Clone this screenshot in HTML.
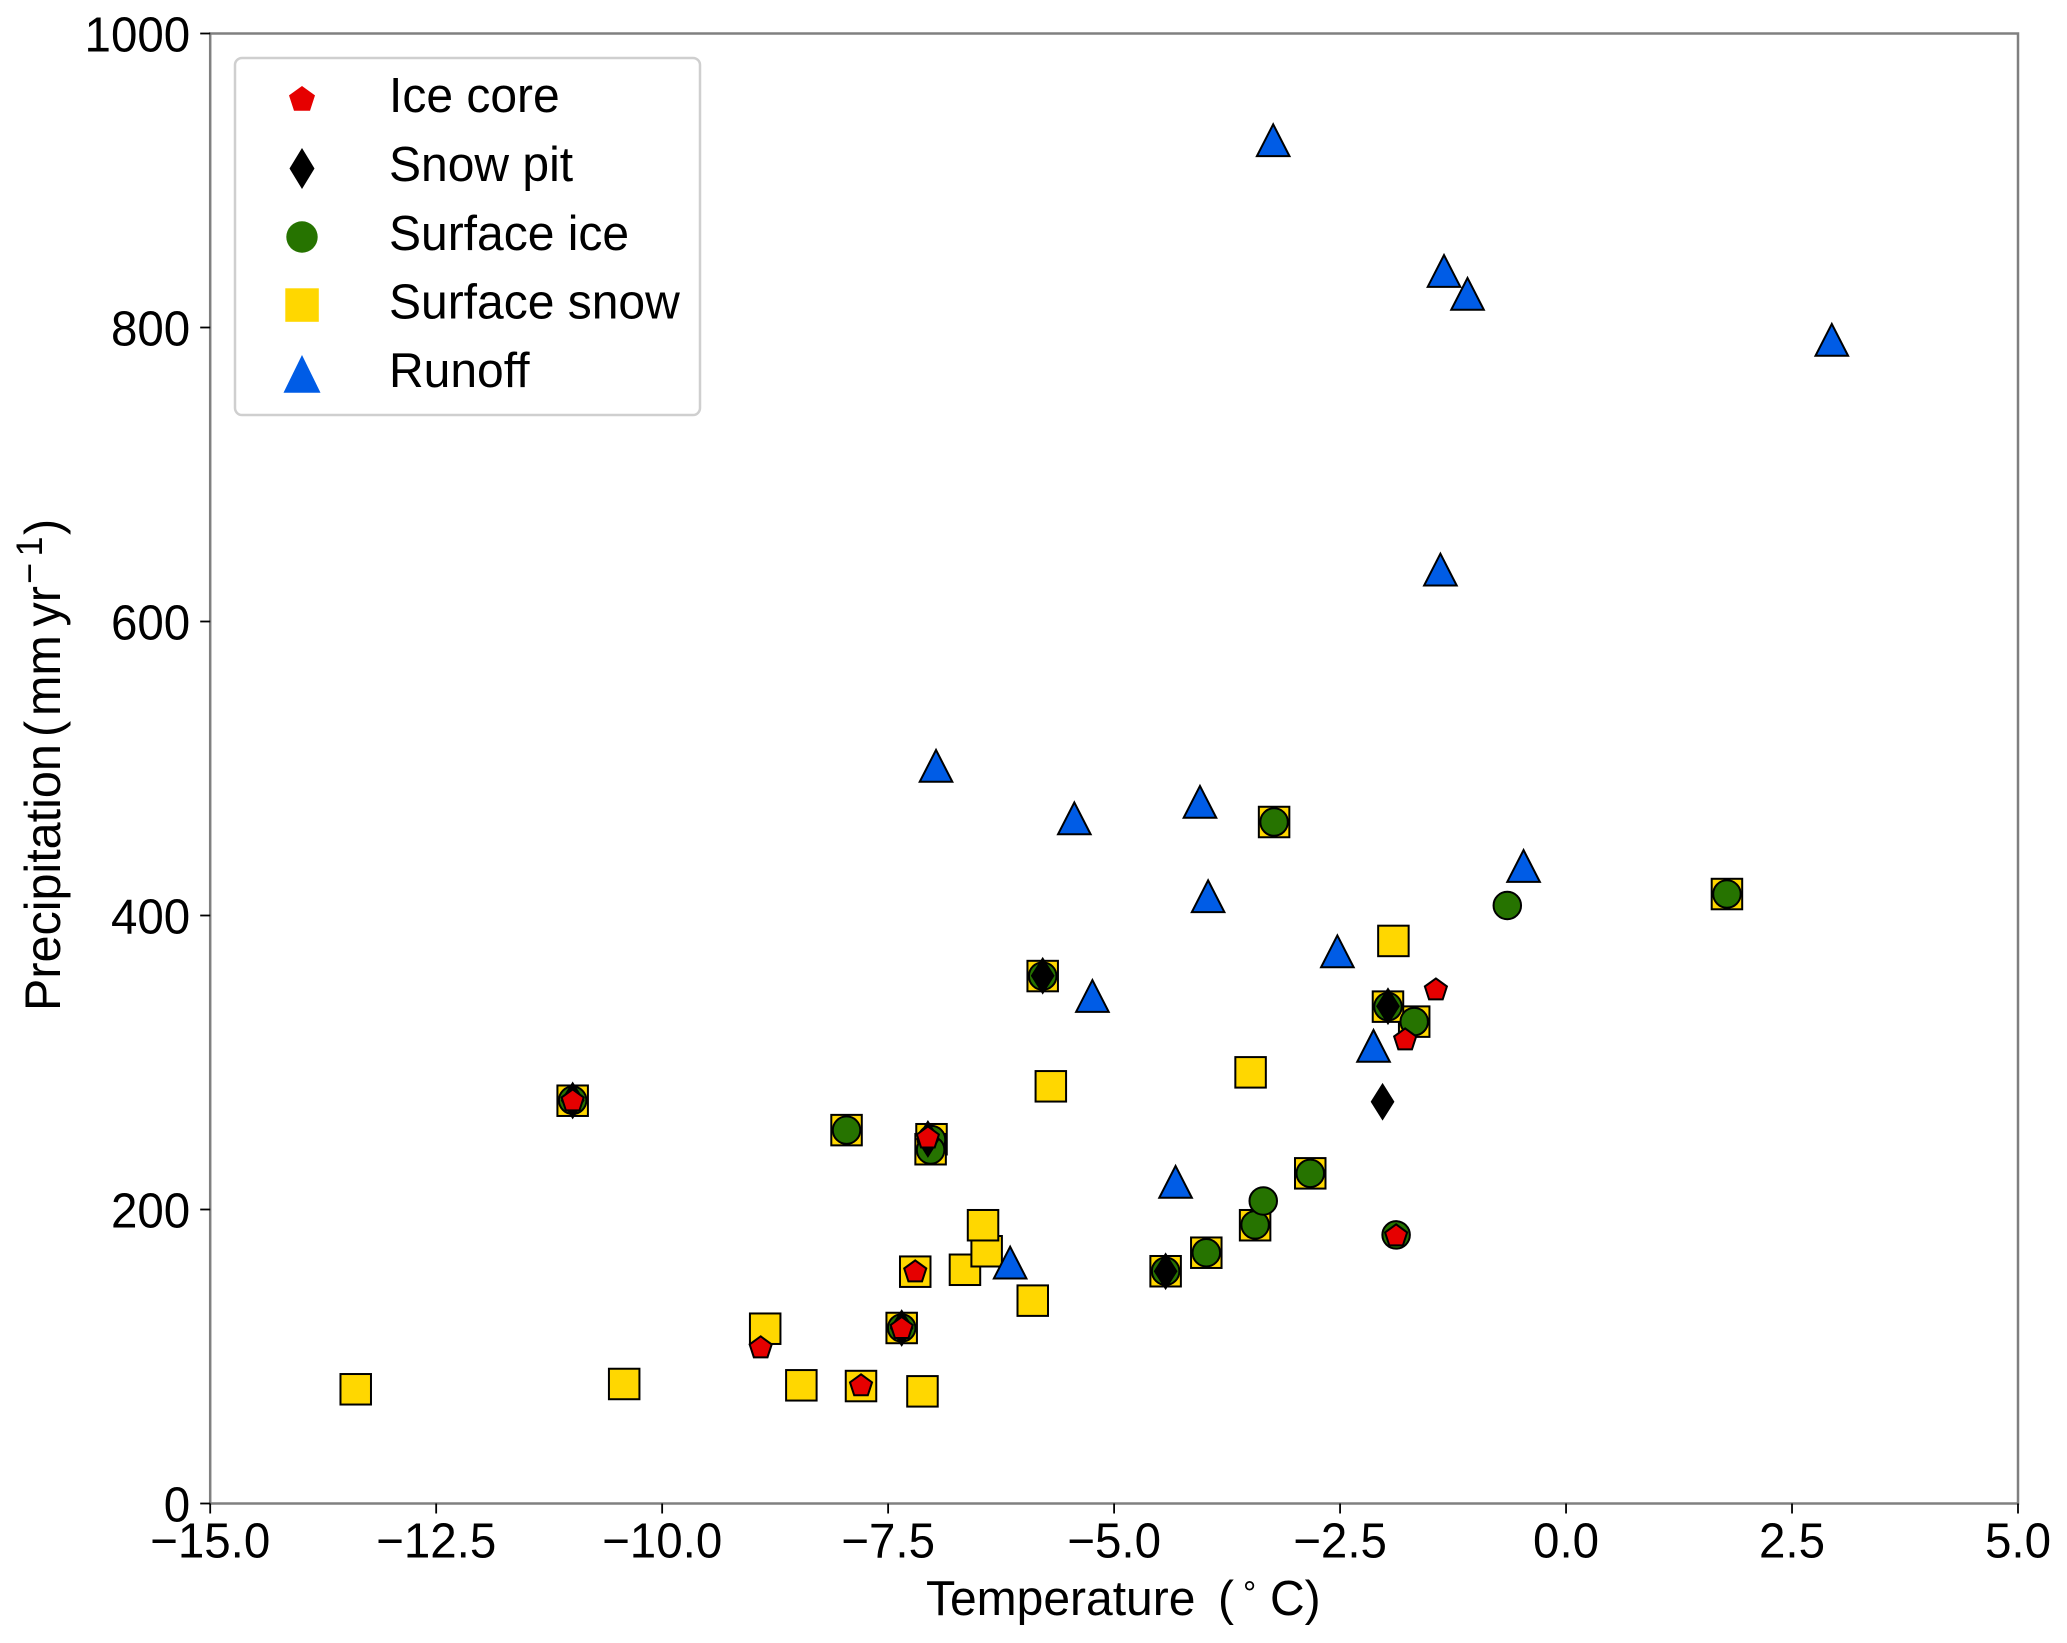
<!DOCTYPE html>
<html lang="en">
<head>
<meta charset="utf-8">
<title>Precipitation vs Temperature</title>
<style>
html,body{margin:0;padding:0;background:#fff;}
svg{display:block;}
text{font-family:"Liberation Sans",Arial,sans-serif;fill:#000;}
</style>
</head>
<body>
<svg id="chart" xmlns="http://www.w3.org/2000/svg" width="2067" height="1643" viewBox="0 0 2067 1643">
  <rect x="0" y="0" width="2067" height="1643" fill="#ffffff"/>
  <g id="marks"></g>
  <g id="axes"></g>
  <g>
    <rect x="235" y="58" width="465" height="357" rx="7" ry="7" fill="#ffffff" stroke="#cfcfcf" stroke-width="2.5"/>
    <polygon points="302,86 315,95.4 310,110.7 294,110.7 289,95.4" fill="#e60000"/>
    <text transform="translate(389,112) scale(1,1.03)" font-size="48">Ice core</text>
    <polygon points="302,148 314.5,168.5 302,189 289.5,168.5" fill="#000000"/>
    <text transform="translate(389,181) scale(1,1.03)" font-size="48">Snow pit</text>
    <circle cx="302" cy="237" r="15.7" fill="#267300"/>
    <text transform="translate(389,250) scale(1,1.03)" font-size="48">Surface ice</text>
    <rect x="285.3" y="288.3" width="33.5" height="33.5" fill="#ffd700"/>
    <text transform="translate(389,318.5) scale(1,1.03)" font-size="48">Surface snow</text>
    <polygon points="302,355 320.5,392.7 283.5,392.7" fill="#005ce6"/>
    <text transform="translate(389,387) scale(1,1.03)" font-size="48">Runoff</text>
  </g>
  <text transform="translate(0,1615) scale(1,1.03)" font-size="48"><tspan x="926" y="0">Temperature</tspan><tspan x="1218" y="0">(</tspan><tspan x="1243" y="-9.5" font-size="33">°</tspan><tspan x="1270" y="0">C)</tspan></text>
  <text transform="translate(60,1011) rotate(-90) scale(1,1.03)" font-size="48.5"><tspan x="0" y="0">Precipitation</tspan><tspan x="274" y="0">(</tspan><tspan x="295" y="0">mm</tspan><tspan x="384.5" y="0">yr</tspan><tspan x="427" y="-17.5" font-size="36">−</tspan><tspan x="454.5" y="-17.5" font-size="36">1</tspan><tspan x="476" y="0">)</tspan></text>
</svg>
<script>
// Axis limits
const xDomain = [-15, 5];
const yDomain = [0, 1000];

// Tick values and labels
const xTickValues = [-15, -12.5, -10, -7.5, -5, -2.5, 0, 2.5, 5];
const xTickLabels = ['−15.0', '−12.5', '−10.0', '−7.5', '−5.0', '−2.5', '0.0', '2.5', '5.0'];
const yTickValues = [0, 200, 400, 600, 800, 1000];
const yTickLabels = ['0', '200', '400', '600', '800', '1000'];

// Surface snow
const surfaceSnowTemp = [-13.39, -10.42, -8.86, -8.46, -7.80, -7.12, -7.35, -7.20, -6.65, -6.41, -6.45, -5.90, -7.96, -7.02, -7.03, -10.99, -5.70, -5.79, -1.91, -1.68, -1.97, -3.49, -2.83, -3.44, -3.98, -4.43, -3.23, 1.78];
const surfaceSnowPrecip = [77.7, 81.3, 118.9, 80.4, 79.9, 76.3, 119.4, 157.7, 159, 171.6, 189.3, 138, 254, 247.8, 241, 274, 283.8, 358.8, 382.7, 327.8, 338, 293.3, 224.6, 189.3, 170.6, 158, 463.6, 414.6];

// Runoff
const runoffTemp = [-3.24, -1.35, -1.09, 2.94, -1.39, -6.97, -5.44, -4.05, -3.96, -0.47, -2.53, -5.24, -2.13, -4.32, -6.15];
const runoffPrecip = [927.8, 838.9, 823.3, 792, 635.7, 502.2, 466.5, 477.7, 413.5, 434.1, 376, 345.7, 311.7, 219.2, 164.3];

// Surface ice
const surfaceIceTemp = [-10.99, -7.96, -7.02, -7.03, -7.35, -5.79, -4.43, -3.98, -3.44, -3.35, -2.83, -1.68, -1.97, -1.88, -3.23, -0.65, 1.78];
const surfaceIcePrecip = [274.3, 254, 247.5, 240.5, 119.4, 358.8, 158, 170.6, 189.5, 205.8, 224.6, 327.8, 338, 182.7, 463.6, 406.8, 414.6];

// Snow pit
const snowPitTemp = [-10.99, -7.06, -7.35, -5.79, -4.43, -1.97, -2.03];
const snowPitPrecip = [274.2, 248, 119.4, 359, 158, 338.3, 273.3];

// Ice core
const iceCoreTemp = [-10.99, -8.91, -7.80, -7.35, -7.20, -7.06, -1.88, -1.78, -1.44];
const iceCorePrecip = [273.8, 105.8, 80, 119, 157.5, 248.6, 182, 315.3, 349.3];

const SVG_NS = 'http://www.w3.org/2000/svg';
const plotLeft = 210.2;
const plotRight = 2018;
const plotTop = 33.5;
const plotBottom = 1503.5;

function xScale(v) {
  return plotLeft + (v - xDomain[0]) / (xDomain[1] - xDomain[0]) * (plotRight - plotLeft);
}
function yScale(v) {
  return plotBottom - (v - yDomain[0]) / (yDomain[1] - yDomain[0]) * (plotBottom - plotTop);
}
function make(tag, parent) {
  const el = document.createElementNS(SVG_NS, tag);
  parent.appendChild(el);
  return el;
}
function polyPoints(cx, cy, offsets) {
  return offsets.map(function (o) { return (cx + o[0]).toFixed(2) + ',' + (cy + o[1]).toFixed(2); }).join(' ');
}

const marks = document.getElementById('marks');
const axes = document.getElementById('axes');

function styleMark(el, fill) {
  el.setAttribute('fill', fill);
  el.setAttribute('stroke', '#000000');
  el.setAttribute('stroke-width', '2');
}

function drawSquares(xs, ys) {
  xs.forEach(function (t, i) {
    const el = make('rect', marks);
    
    
    el.setAttribute('x', xScale(t) - 15.25);
    el.setAttribute('y', yScale(ys[i]) - 15.25);
    el.setAttribute('width', 30.5);
    el.setAttribute('height', 30.5);
    styleMark(el, '#ffd700');
  });
}
function drawTriangles(xs, ys) {
  xs.forEach(function (t, i) {
    const el = make('polygon', marks);
    
    
    el.setAttribute('points', polyPoints(xScale(t), yScale(ys[i]), [[0, -15.3], [16.3, 16.5], [-16.3, 16.5]]));
    styleMark(el, '#005ce6');
  });
}
function drawCircles(xs, ys) {
  xs.forEach(function (t, i) {
    const el = make('circle', marks);
    
    
    el.setAttribute('cx', xScale(t));
    el.setAttribute('cy', yScale(ys[i]));
    el.setAttribute('r', 13.75);
    styleMark(el, '#267300');
  });
}
function drawDiamonds(xs, ys) {
  xs.forEach(function (t, i) {
    const el = make('polygon', marks);
    
    
    el.setAttribute('points', polyPoints(xScale(t), yScale(ys[i]), [[0, -17.5], [11, 0], [0, 17.5], [-11, 0]]));
    styleMark(el, '#000000');
    el.setAttribute('stroke-width', '1.5');
  });
}
function drawPentagons(xs, ys) {
  const r = 11.6;
  const offsets = [0, 1, 2, 3, 4].map(function (k) {
    const a = (-90 + 72 * k) * Math.PI / 180;
    return [r * Math.cos(a), r * Math.sin(a)];
  });
  xs.forEach(function (t, i) {
    const el = make('polygon', marks);
    
    
    el.setAttribute('points', polyPoints(xScale(t), yScale(ys[i]), offsets));
    styleMark(el, '#e60000');
  });
}

drawSquares(surfaceSnowTemp, surfaceSnowPrecip);
drawTriangles(runoffTemp, runoffPrecip);
drawCircles(surfaceIceTemp, surfaceIcePrecip);
drawDiamonds(snowPitTemp, snowPitPrecip);
drawPentagons(iceCoreTemp, iceCorePrecip);

// Spines
const frame = make('rect', axes);


frame.setAttribute('x', plotLeft);
frame.setAttribute('y', plotTop);
frame.setAttribute('width', plotRight - plotLeft);
frame.setAttribute('height', plotBottom - plotTop);
frame.setAttribute('fill', 'none');
frame.setAttribute('stroke', '#808080');
frame.setAttribute('stroke-width', '2.5');

// X axis ticks
xTickValues.forEach(function (v, i) {
  const tick = make('line', axes);
  
  
  tick.setAttribute('x1', xScale(v));
  tick.setAttribute('x2', xScale(v));
  tick.setAttribute('y1', plotBottom);
  tick.setAttribute('y2', plotBottom + 10);
  tick.setAttribute('stroke', '#000000');
  tick.setAttribute('stroke-width', '1.8');
  const label = make('text', axes);
  
  
  label.setAttribute('transform', 'translate(' + xScale(v) + ',' + (plotBottom + 54) + ') scale(1,1.03)');
  label.setAttribute('text-anchor', 'middle');
  label.setAttribute('font-size', '47.5');
  label.textContent = xTickLabels[i];
});

// Y axis ticks
yTickValues.forEach(function (v, i) {
  const tick = make('line', axes);
  
  
  tick.setAttribute('x1', plotLeft - 10);
  tick.setAttribute('x2', plotLeft);
  tick.setAttribute('y1', yScale(v));
  tick.setAttribute('y2', yScale(v));
  tick.setAttribute('stroke', '#000000');
  tick.setAttribute('stroke-width', '1.8');
  const label = make('text', axes);
  
  
  label.setAttribute('transform', 'translate(' + (plotLeft - 20) + ',' + (yScale(v) + 18) + ') scale(1,1.03)');
  label.setAttribute('text-anchor', 'end');
  label.setAttribute('font-size', '47.5');
  label.textContent = yTickLabels[i];
});
</script>
</body>
</html>
